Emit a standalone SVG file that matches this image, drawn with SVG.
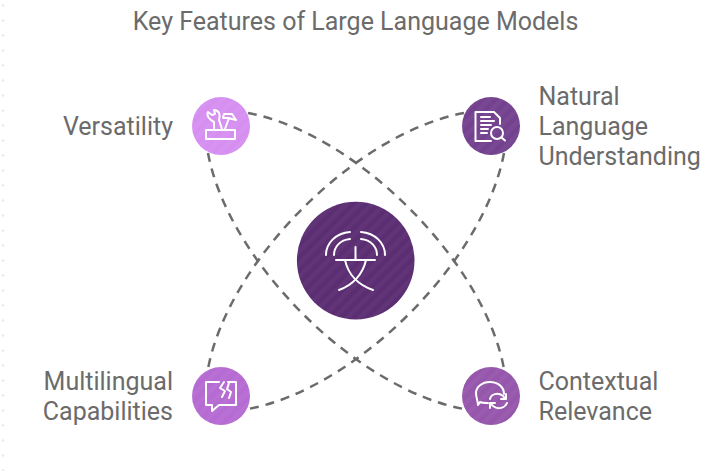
<svg xmlns="http://www.w3.org/2000/svg" width="718" height="471" viewBox="0 0 718 471">
<defs>
<pattern id="dots" x="0" y="0" width="15" height="15" patternUnits="userSpaceOnUse"><circle cx="3" cy="5.500" r="1.300" fill="#e9e9e9"/></pattern>
<pattern id="hatch" width="9" height="9" patternUnits="userSpaceOnUse" patternTransform="rotate(-45)"><rect width="9" height="4.500" fill="#fff" fill-opacity="0.035"/></pattern>
</defs>
<style>
text{font-family:"Roboto","Liberation Sans",sans-serif;fill:#6b6b6b;font-size:25px}
.c{fill:none;stroke:#6b6b6b;stroke-width:2.500;stroke-dasharray:9 7}
.i{fill:none;stroke:#fff;stroke-width:2;stroke-linecap:round;stroke-linejoin:round}
</style>
<rect width="718" height="471" fill="#fff"/>
<rect x="0" y="0" width="6" height="471" fill="url(#dots)"/>
<text x="355.500" y="30" text-anchor="middle" id="title">Key Features of Large Language Models</text>
<g id="connectors">
<path class="c" d="M248,113 C356,133 484,261 504,369"/>
<path class="c" d="M464,113 C356,133 228,261 208,369"/>
<path class="c" d="M208,153 C228,261 356,389 464,409"/>
<path class="c" d="M504,153 C484,261 356,389 248,409"/>
</g>
<g id="center">
<circle cx="355.700" cy="260.600" r="58.800" fill="#5b2d72"/><circle cx="355.700" cy="260.600" r="58.800" fill="url(#hatch)"/>
<g class="i">
<path d="M326,255 C326,243 336,233 350,232"/>
<path d="M334,255 C334,247 340,240 350,239"/>
<path d="M385,255 C385,243 375,233 361,232"/>
<path d="M377,255 C377,247 371,240 361,239"/>
<path d="M355.500,247 V260 M336,260 H375"/>
<path d="M345,260 C348,274 358,285 373,290 M366,260 C363,274 353,285 339,290"/>
</g>
</g>
<g id="versatility">
<circle cx="221" cy="126" r="29" fill="#d68ff0"/><circle cx="221" cy="126" r="29" fill="url(#hatch)"/>
<g class="i">
<path d="M206,130 H235 V139 H206 Z"/>
<path d="M214,130 V122 C210,120 206,116 208,112 L212,115 L215,114 L214,110 C219,110 221,115 219,120 L222,129"/>
<path d="M225,129 L229,118 M224,114 L232,114 L236,120 L228,118 L223,118 Z"/>
</g>
</g>
<g id="natural-language">
<circle cx="491" cy="126" r="29" fill="#74418f"/><circle cx="491" cy="126" r="29" fill="url(#hatch)"/>
<g class="i">
<path d="M491,141 H475.500 V112 H494 L500,118 V124"/>
<path d="M481,117 H490 M481,121 H494 M481,125 H491 M481,129 H488 M481,133 H487"/>
<circle cx="497" cy="133" r="6"/><path d="M501.500,137.500 L505,140.500"/>
</g>
</g>
<g id="multilingual">
<circle cx="221" cy="396" r="29" fill="#b56bd2"/><circle cx="221" cy="396" r="29" fill="url(#hatch)"/>
<g class="i">
<path d="M219,382 H206 V405 H212 V411 L219,405 H236 V382 H228"/>
<path d="M224,382 L220,388 L225,391 L222,397 M229,383 L227,389 L231,392 L229,398"/>
</g>
</g>
<g id="contextual">
<circle cx="491" cy="396" r="29" fill="#9556ab"/><circle cx="491" cy="396" r="29" fill="url(#hatch)"/>
<g class="i">
<path d="M488,403 C485,403 482,403 480,402 L478,405 C478,401 476,398 476,393 C476,387 482,382 490,382 C498,382 504,387 504,394"/>
<path d="M490,399 C491,394 498,392 503,396 L506,399 M506,394 V399 H501"/>
<path d="M507,403 C505,408 498,410 493,406 L490,403 M490,408 V403 H495"/>
</g>
</g>
<text x="173" y="135" text-anchor="end">Versatility</text>
<text x="538.500" y="105">Natural</text>
<text x="538.500" y="135">Language</text>
<text x="538.500" y="165">Understanding</text>
<text x="173" y="390" text-anchor="end">Multilingual</text>
<text x="173" y="420" text-anchor="end">Capabilities</text>
<text x="538.500" y="390">Contextual</text>
<text x="538.500" y="420">Relevance</text>
</svg>
